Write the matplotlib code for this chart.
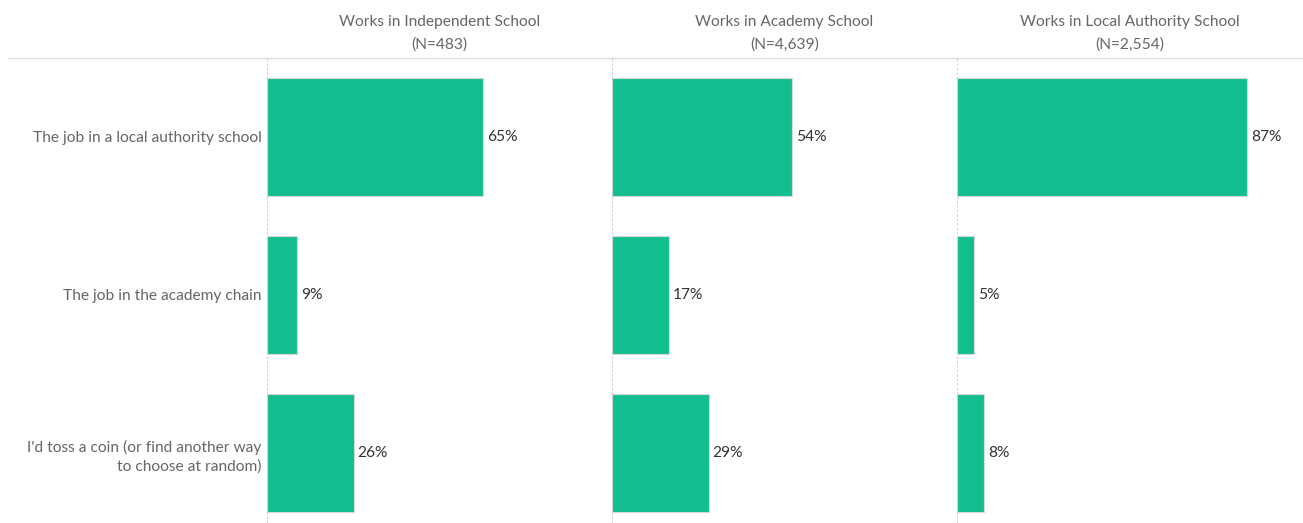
import matplotlib
matplotlib.use("Agg")
import matplotlib.pyplot as plt

categories = ["The job in a local authority school",
              "The job in the academy chain",
              "I'd toss a coin (or find another way\nto choose at random)"]
panels = ["Works in Independent School\n(N=483)",
          "Works in Academy School\n(N=4,639)",
          "Works in Local Authority School\n(N=2,554)"]
values = [[65, 9, 26],
          [54, 17, 29],
          [87, 5, 8]]

W, H = 1303, 523
fig = plt.figure(figsize=(W / 100, H / 100), dpi=100)
plt.rcParams['font.family'] = ['Lato', 'DejaVu Sans']

bar_color = "#13BE8E"
px_per_pct = 3.33
panel_left = [267, 612, 957]
panel_w = 345
top, bottom = 58, 523
row = 158

for i, (title, vals) in enumerate(zip(panels, values)):
    ax = fig.add_axes([panel_left[i] / W, (H - bottom) / H, panel_w / W, (bottom - top) / H])
    ax.barh(range(len(categories)), vals, height=118 / row, color=bar_color,
            edgecolor="#d8d8d8", linewidth=0.8)
    ax.set_xlim(0, panel_w / px_per_pct)
    ax.set_ylim(-0.5 + (bottom - top) / row, -0.5)
    for j, v in enumerate(vals):
        ax.annotate(f"{v}%", (v, j), xytext=(3, 0), textcoords="offset points",
                    va="center", ha="left", fontsize=11.2, color="#333333")
    for s in ax.spines.values():
        s.set_visible(False)
    ax.axvline(0, color="#cccccc", lw=0.8, ls=(0, (2, 2)))
    ax.set_xticks([])
    if i == 0:
        ax.set_yticks(range(len(categories)))
        ax.set_yticklabels(categories, fontsize=11.2, color="#666666", ha="right",
                           multialignment="right", linespacing=1.4)
        ax.tick_params(axis="y", length=0, pad=4)
    else:
        ax.set_yticks([])
    fig.text((panel_left[i] + panel_w / 2) / W, 1 - 33.5 / H, title, ha="center", va="center",
             fontsize=11.2, color="#666666", linespacing=1.75)

fig.add_artist(plt.Line2D([8 / W, 1], [1 - top / H, 1 - top / H], color="#dddddd", lw=1))
fig.savefig("out.png", dpi=100, facecolor="white")
